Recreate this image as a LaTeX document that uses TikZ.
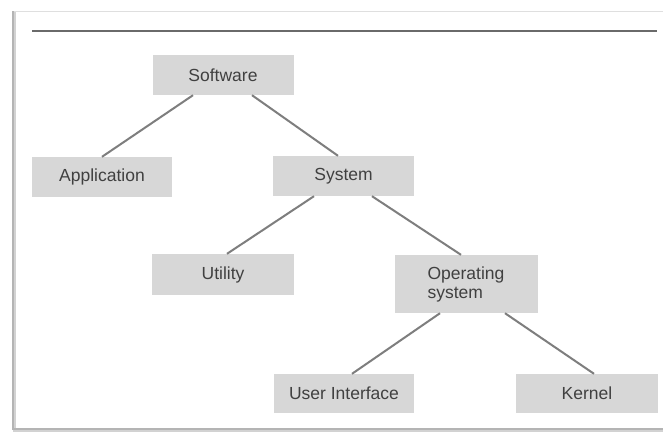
\documentclass[tikz,border=0pt]{standalone}
\usepackage{fontspec}
\setmainfont{Liberation Sans}
\definecolor{boxfill}{HTML}{D7D7D7}
\definecolor{txt}{HTML}{404040}
\definecolor{conn}{HTML}{7E7E7E}
\definecolor{rule}{HTML}{6A6A6A}
\definecolor{frame}{HTML}{B4B4B4}
\begin{document}
\begin{tikzpicture}[x=1pt,y=-1pt,
  box/.style={rectangle, fill=boxfill, draw=none, text=txt, font=\fontsize{17.5}{19}\selectfont, inner sep=0pt, minimum width=141pt, minimum height=40pt},
  link/.style={draw=conn, line width=2pt}]
\useasboundingbox (0,0) rectangle (663,431);
\fill[white] (0,0) rectangle (663,431);
% frame with slight shadow
\draw[draw=gray!25, line width=1pt] (13,11) -- (663,11);
\draw[draw=frame!60, line width=3pt] (14,12) -- (14,430) -- (663,430);
\draw[draw=frame, line width=1.2pt] (13,11) -- (13,429) -- (663,429);
% top rule
\draw[draw=rule, line width=2pt] (32,31) -- (657,31);
% nodes
\node[box] (sw) at (223,75) {Software};
\node[box, minimum width=140pt] (app) at (102,177) {Application};
\node[box] (sys) at (343.5,176) {System};
\node[box, minimum width=142pt, minimum height=41pt] (util) at (223,274.5) {Utility};
\node[box, minimum width=143pt, minimum height=58pt, align=left] (os) at (466,284) {Operating\\system};
\node[box, minimum width=140pt, minimum height=39pt] (ui) at (344,393.5) {User Interface};
\node[box, minimum width=142pt, minimum height=39pt] (kern) at (587,393.5) {Kernel};
% connectors
\draw[link] ([xshift=-30pt]sw.south) -- ([xshift=0pt]app.north);
\draw[link] ([xshift=29pt]sw.south) -- ([xshift=-5.5pt]sys.north);
\draw[link] ([xshift=-29.5pt]sys.south) -- ([xshift=4pt]util.north);
\draw[link] ([xshift=28.5pt]sys.south) -- ([xshift=-5pt]os.north);
\draw[link] ([xshift=-26pt]os.south) -- ([xshift=8pt]ui.north);
\draw[link] ([xshift=39pt]os.south) -- ([xshift=7pt]kern.north);
\end{tikzpicture}
\end{document}
